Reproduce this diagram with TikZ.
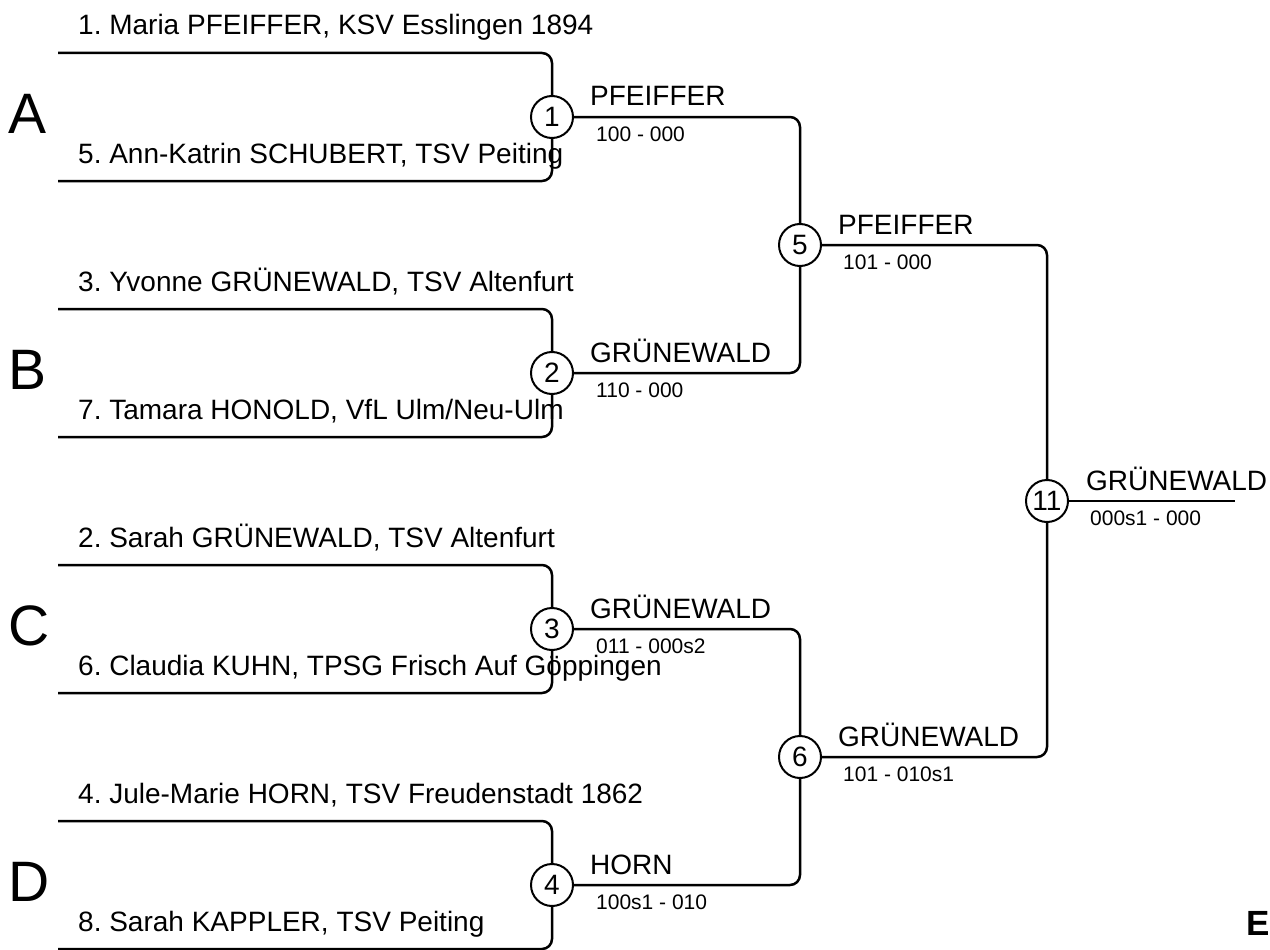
\documentclass[tikz,border=0pt]{standalone}
\usepackage{fontspec}
\setmainfont{Liberation Sans}
\usetikzlibrary{positioning}
\frenchspacing

\tikzset{
    bracket/.style={line width=2.5pt, rounded corners=10pt},
    match/.style={circle, draw, line width=2pt, minimum size=42pt, inner sep=0pt, fill=white, font=\fontsize{28}{28}\selectfont},
    player/.style={anchor=base west, inner sep=0pt, font=\fontsize{28}{34}\selectfont},
    winner/.style={anchor=base west, inner sep=0pt, font=\fontsize{28}{34}\selectfont},
    score/.style={anchor=base west, inner sep=0pt, font=\fontsize{21}{25}\selectfont},
    group/.style={anchor=base west, inner sep=0pt, font=\fontsize{57}{60}\selectfont},
}

\begin{document}
\begin{tikzpicture}[x=1pt, y=-1pt]
        \useasboundingbox (0,0) rectangle (1270,950);

        % Group A
        \coordinate (a1) at (58,53);
        \coordinate (a5) at (58,181);
        \node[group] (ga) at (8,133) {A};
        \node[player] (p1) at (78,35) {1. Maria PFEIFFER, KSV Esslingen 1894};
        \node[player] (p5) at (78,163) {5. Ann-Katrin SCHUBERT, TSV Peiting};

        % Group B
        \coordinate (a3) at (58,309);
        \coordinate (a7) at (58,437);
        \node[group] (gb) at (8,389) {B};
        \node[player] (p3) at (78,291) {3. Yvonne GRÜNEWALD, TSV Altenfurt};
        \node[player] (p7) at (78,419) {7. Tamara HONOLD, VfL Ulm/Neu-Ulm};

        % Group C
        \coordinate (a2) at (58,565);
        \coordinate (a6) at (58,693);
        \node[group] (gc) at (8,645) {C};
        \node[player] (p2) at (78,547) {2. Sarah GRÜNEWALD, TSV Altenfurt};
        \node[player] (p6) at (78,675) {6. Claudia KUHN, TPSG Frisch Auf Göppingen};

        % Group D
        \coordinate (a4) at (58,821);
        \coordinate (a8) at (58,949);
        \node[group] (gd) at (8,901) {D};
        \node[player] (p4) at (78,803) {4. Jule-Marie HORN, TSV Freudenstadt 1862};
        \node[player] (p8) at (78,931) {8. Sarah KAPPLER, TSV Peiting};

        % First round
        \node[match] (m1) at (552,117) {1};
        \node[match] (m2) at (552,373) {2};
        \node[match] (m3) at (552,629) {3};
        \node[match] (m4) at (552,885) {4};
        \draw[bracket] (a1) -| (m1);
        \draw[bracket] (a5) -| (m1);
        \draw[bracket] (a3) -| (m2);
        \draw[bracket] (a7) -| (m2);
        \draw[bracket] (a2) -| (m3);
        \draw[bracket] (a6) -| (m3);
        \draw[bracket] (a4) -| (m4);
        \draw[bracket] (a8) -| (m4);

        \node[winner] (w1) at (590,106) {PFEIFFER};
        \node[score] (s1) at (596,141) {100 - 000};
        \node[winner] (w2) at (590,362) {GRÜNEWALD};
        \node[score] (s2) at (596,397) {110 - 000};
        \node[winner] (w3) at (590,618) {GRÜNEWALD};
        \node[score] (s3) at (596,653) {011 - 000s2};
        \node[winner] (w4) at (590,874) {HORN};
        \node[score] (s4) at (596,909) {100s1 - 010};

        % Second round
        \node[match] (m5) at (800,245) {5};
        \node[match] (m6) at (800,757) {6};
        \draw[bracket] (m1) -| (m5);
        \draw[bracket] (m2) -| (m5);
        \draw[bracket] (m3) -| (m6);
        \draw[bracket] (m4) -| (m6);

        \node[winner] (w5) at (838,234) {PFEIFFER};
        \node[score] (s5) at (843,269) {101 - 000};
        \node[winner] (w6) at (838,746) {GRÜNEWALD};
        \node[score] (s6) at (843,781) {101 - 010s1};

        % Final
        \node[match] (m11) at (1047,501) {11};
        \draw[bracket] (m5) -| (m11);
        \draw[bracket] (m6) -| (m11);
        \coordinate (fin) at (1235,501);
        \draw[bracket] (m11) -- (fin);

        \node[winner] (w11) at (1086,490) {GRÜNEWALD};
        \node[score] (s11) at (1090,525) {000s1 - 000};

        \node[anchor=base west, inner sep=0pt, font=\fontsize{35}{40}\selectfont\bfseries] (res) at (1246,935) {En};
    \end{tikzpicture}
\end{document}
